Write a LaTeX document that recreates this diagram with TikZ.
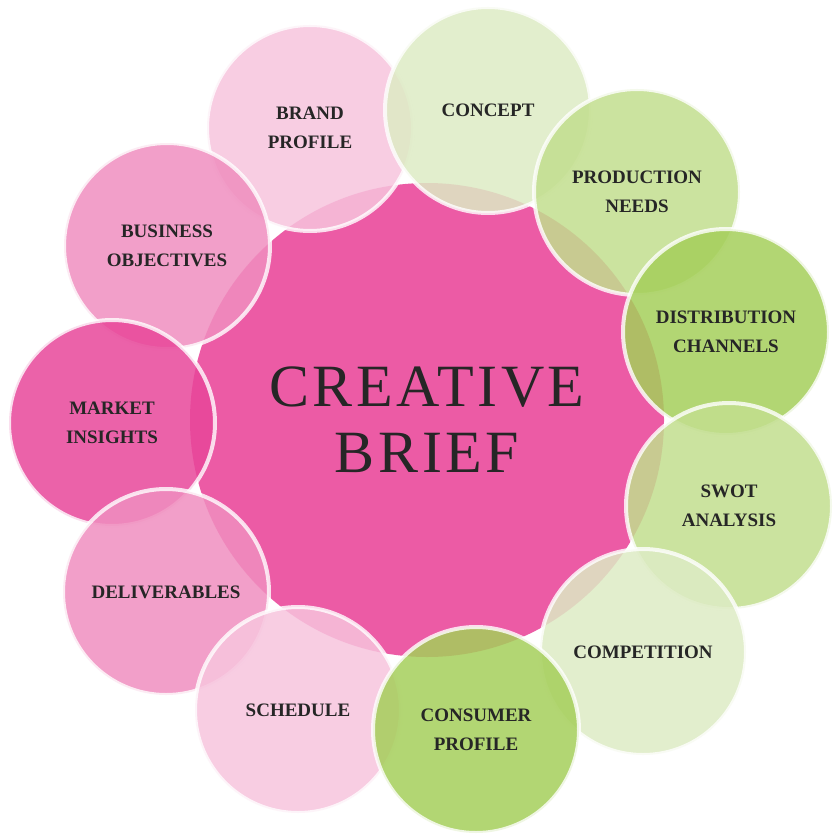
\documentclass[tikz,border=0pt]{standalone}
\usepackage{fontspec}
\setmainfont{Liberation Serif}
\begin{document}
\begin{tikzpicture}[x=1pt,y=-1pt,
  bub/.style={circle,minimum size=206pt,inner sep=0pt,draw=white,draw opacity=0.8,line width=4pt,fill opacity=0.85,text opacity=1,align=center,font=\fontsize{19}{29}\selectfont\bfseries,text=black!85},
  ctr/.style={circle,minimum size=474pt,inner sep=0pt,fill=cpink,align=center,font=\fontsize{60}{66}\selectfont\addfontfeature{LetterSpace=6},text=black!85}]
\definecolor{cpink}{HTML}{EC5BA5}
\definecolor{lpink}{HTML}{F7C4DD}
\definecolor{mpink}{HTML}{F08EBF}
\definecolor{dpink}{HTML}{E8469A}
\definecolor{lgreen}{HTML}{DDEBC4}
\definecolor{mgreen}{HTML}{C2DE8E}
\definecolor{dgreen}{HTML}{A5CF5A}
\useasboundingbox (0,0) rectangle (840,840);
\node[ctr] (c) at (427,420) {CREATIVE\\BRIEF};
\node[bub,fill=lpink] (brand) at (310,128) {BRAND\\PROFILE};
\node[bub,fill=lgreen] (concept) at (488,110) {CONCEPT};
\node[bub,fill=mgreen] (prod) at (637,192) {PRODUCTION\\NEEDS};
\node[bub,fill=dgreen] (dist) at (726,332) {DISTRIBUTION\\CHANNELS};
\node[bub,fill=mgreen] (swot) at (729,506) {SWOT\\ANALYSIS};
\node[bub,fill=lgreen] (comp) at (643,652) {COMPETITION};
\node[bub,fill=mpink] (bus) at (167,246) {BUSINESS\\OBJECTIVES};
\node[bub,fill=dpink] (mark) at (112,423) {MARKET\\INSIGHTS};
\node[bub,fill=mpink] (deliv) at (166,592) {DELIVERABLES};
\node[bub,fill=lpink] (sched) at (298,710) {SCHEDULE};
\node[bub,fill=dgreen] (cons) at (476,730) {CONSUMER\\PROFILE};
\end{tikzpicture}
\end{document}
